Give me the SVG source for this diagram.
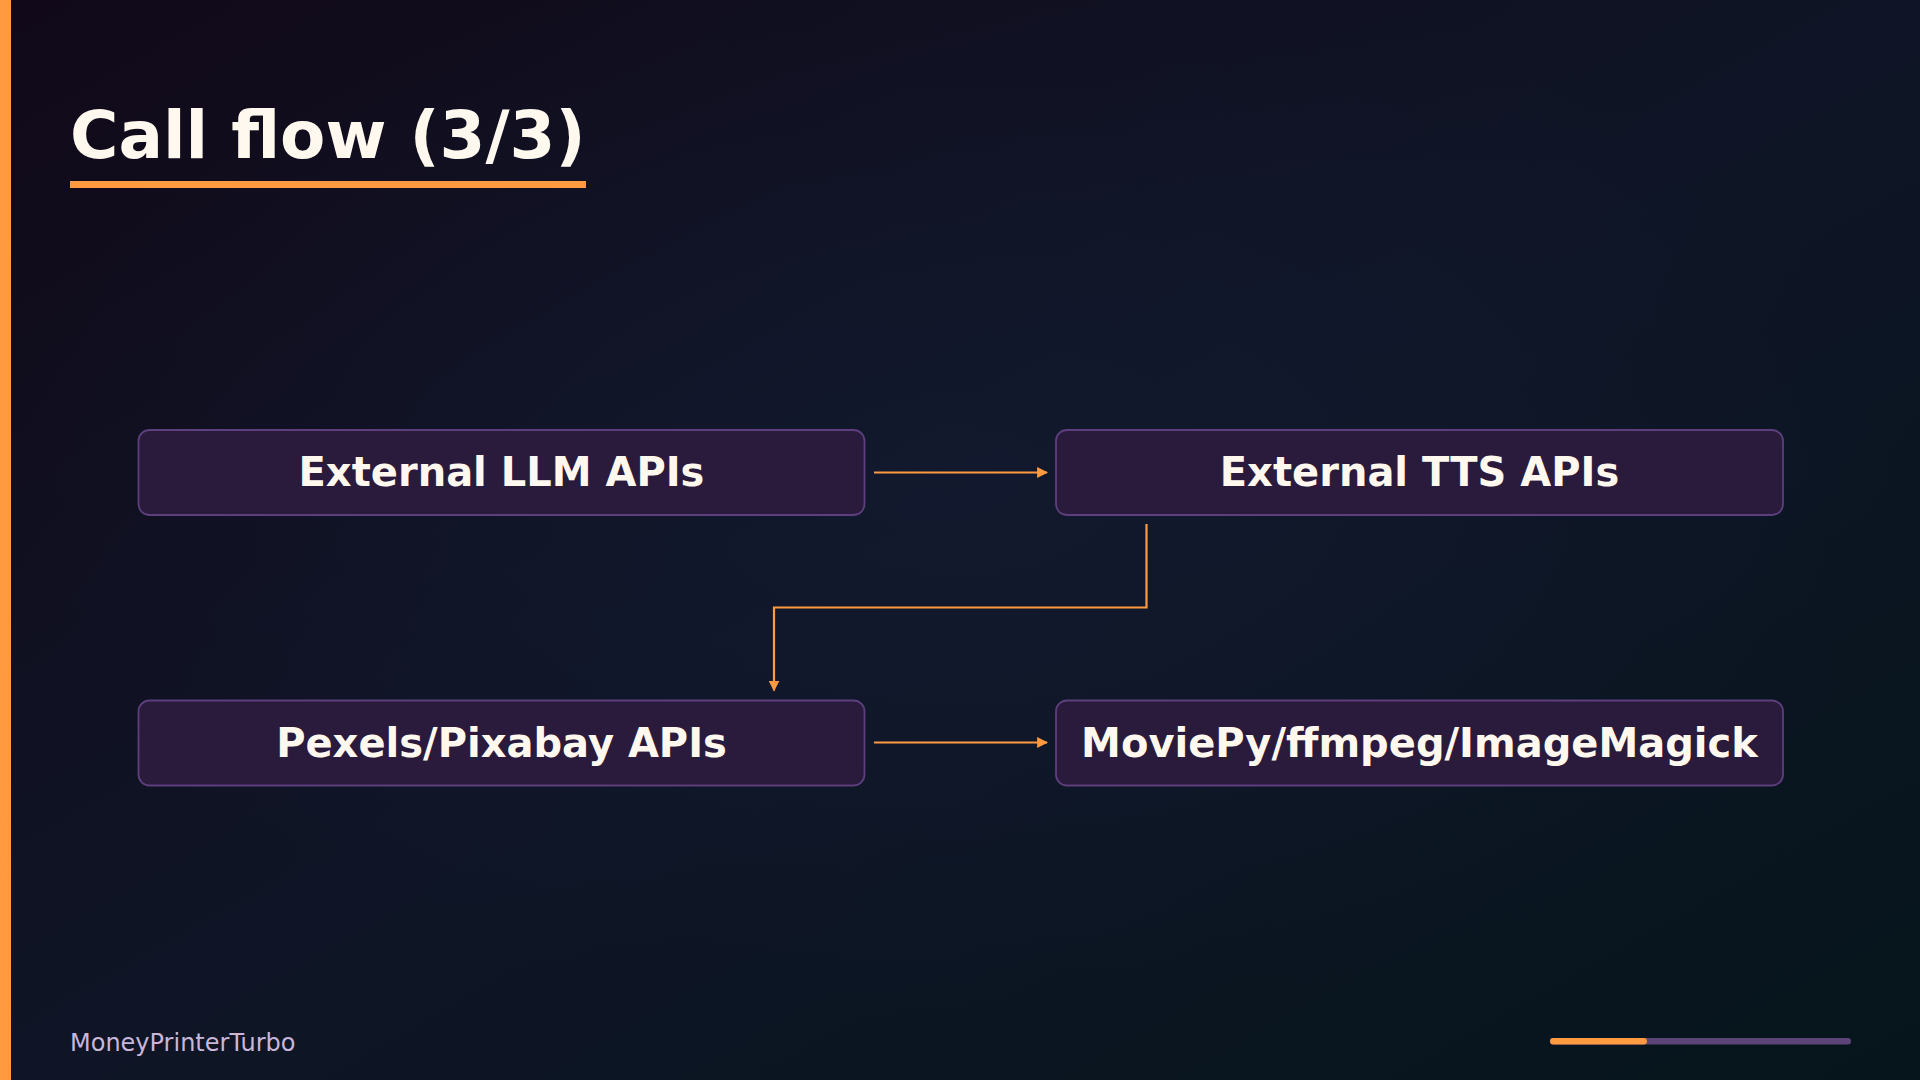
<svg xmlns="http://www.w3.org/2000/svg" width="1920" height="1080" viewBox="0 0 1920 1080">
  <defs>
    <linearGradient id="bg" x1="0" y1="0" x2="1" y2="1">
      <stop offset="0" stop-color="#110919"/>
      <stop offset="0.5" stop-color="#0f1526"/>
      <stop offset="1" stop-color="#06151c"/>
    </linearGradient>
    <radialGradient id="glow" cx="0.5" cy="0.45" r="0.5">
      <stop offset="0" stop-color="#141c33" stop-opacity="0.6"/>
      <stop offset="1" stop-color="#141c33" stop-opacity="0"/>
    </radialGradient>
    <marker id="arrow" viewBox="0 0 10 10" refX="9" refY="5" markerWidth="11" markerHeight="11" markerUnits="userSpaceOnUse" orient="auto">
      <path d="M0,0 L10,5 L0,10 z" fill="#ff9a40"/>
    </marker>
    <style>
      .node rect { fill: #2a1a3c; stroke: #5c3f7c; stroke-width: 1.8; }
      .node text { font-family: "DejaVu Sans", "Liberation Sans", sans-serif; font-weight: bold; font-size: 40px; fill: #fff8ef; text-anchor: middle; }
      .edge { fill: none; stroke: #ff9a40; stroke-width: 2.2; marker-end: url(#arrow); }
    </style>
  </defs>
  <rect x="0" y="0" width="1920" height="1080" fill="url(#bg)"/>
  <rect x="0" y="0" width="1920" height="1080" fill="url(#glow)"/>
  <rect x="0" y="0" width="11" height="1080" fill="#ff9a40"/>

  <g id="title">
    <text x="70" y="158" font-family="DejaVu Sans, Liberation Sans, sans-serif" font-weight="bold" font-size="66" fill="#fff8ef">Call flow (3/3)</text>
    <rect x="70" y="181" width="516" height="7" fill="#ff9a40"/>
  </g>

  <g id="node-llm" class="node">
    <rect x="138.5" y="430" width="726" height="85" rx="11"/>
    <text x="501.5" y="486">External LLM APIs</text>
  </g>
  <g id="node-tts" class="node">
    <rect x="1056" y="430" width="727" height="85" rx="11"/>
    <text x="1419.5" y="486">External TTS APIs</text>
  </g>
  <g id="node-pexels" class="node">
    <rect x="138.5" y="700.5" width="726" height="85" rx="11"/>
    <text x="501.5" y="756.5">Pexels/Pixabay APIs</text>
  </g>
  <g id="node-moviepy" class="node">
    <rect x="1056" y="700.5" width="727" height="85" rx="11"/>
    <text x="1419.5" y="756.5">MoviePy/ffmpeg/ImageMagick</text>
  </g>

  <g id="connectors">
    <path class="edge" d="M874,472.5 L1047,472.5"/>
    <path class="edge" d="M1146.5,524 L1146.5,607.5 L774,607.5 L774,690.5"/>
    <path class="edge" d="M874,742.5 L1047,742.5"/>
  </g>

  <g id="footer">
    <text x="70" y="1051" font-family="DejaVu Sans, Liberation Sans, sans-serif" font-size="24" fill="#c9b7da">MoneyPrinterTurbo</text>
    <rect x="1550" y="1038" width="301" height="6.5" rx="3.25" fill="#5c4478"/>
    <rect x="1550" y="1038" width="97" height="6.5" rx="3.25" fill="#ff9a40"/>
  </g>
</svg>
